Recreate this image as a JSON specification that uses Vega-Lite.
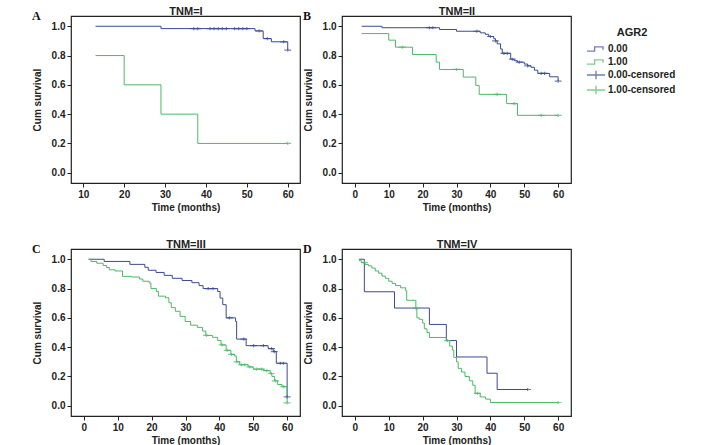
{
  "$schema": "https://vega.github.io/schema/vega-lite/v6.json",
  "background": "white",
  "padding": {"left": 31, "top": 4, "right": 5, "bottom": 0},
  "config": {
    "font": "Liberation Sans",
    "view": {"stroke": "#222222", "strokeWidth": 1.2},
    "axis": {"grid": false, "domain": false, "tickColor": "#222222", "tickSize": 4, "labelFont": "Liberation Sans", "labelFontWeight": "bold", "labelFontSize": 10, "labelColor": "#222222", "titleFont": "Liberation Sans", "titleFontWeight": "bold", "titleFontSize": 10, "titleColor": "#222222", "labelPadding": 2, "labelOverlap": false},
    "axisX": {"titlePadding": 3},
    "axisY": {"titlePadding": 9, "labelOverlap": false},
    "title": {"font": "Liberation Serif", "fontSize": 12, "fontWeight": "bold", "color": "#111111", "anchor": "start", "frame": "bounds", "offset": -18},
    "legend": {"titleFont": "Liberation Sans", "titleFontSize": 11, "titleFontWeight": "bold", "titleColor": "#222222", "titleAnchor": "middle", "titlePadding": 3, "labelFont": "Liberation Sans", "labelFontSize": 10, "labelFontWeight": "bold", "labelColor": "#222222", "labelOffset": 4, "symbolSize": 196, "symbolStrokeWidth": 1.4, "rowPadding": 0, "orient": "right", "padding": 11, "offset": 5}
  },
  "data": {"values": [
    {"p":"A","g":"0.00","t":13,"s":1},{"p":"A","g":"0.00","t":29,"s":0.984},{"p":"A","g":"0.00","t":52,"s":0.968},{"p":"A","g":"0.00","t":54,"s":0.916},{"p":"A","g":"0.00","t":56,"s":0.894},{"p":"A","g":"0.00","t":60,"s":0.837},
    {"p":"A","g":"1.00","t":13,"s":0.8},{"p":"A","g":"1.00","t":20,"s":0.6},{"p":"A","g":"1.00","t":29,"s":0.4},{"p":"A","g":"1.00","t":38,"s":0.2},{"p":"A","g":"1.00","t":60,"s":0.2},
    {"p":"A","g":"0.00-censored","t":37,"s":0.984},{"p":"A","g":"0.00-censored","t":38,"s":0.984},{"p":"A","g":"0.00-censored","t":41,"s":0.984},{"p":"A","g":"0.00-censored","t":42,"s":0.984},{"p":"A","g":"0.00-censored","t":43,"s":0.984},{"p":"A","g":"0.00-censored","t":44,"s":0.984},{"p":"A","g":"0.00-censored","t":45,"s":0.984},{"p":"A","g":"0.00-censored","t":47,"s":0.984},{"p":"A","g":"0.00-censored","t":48,"s":0.984},{"p":"A","g":"0.00-censored","t":49,"s":0.984},{"p":"A","g":"0.00-censored","t":50,"s":0.984},{"p":"A","g":"0.00-censored","t":53,"s":0.968},{"p":"A","g":"0.00-censored","t":55,"s":0.916},{"p":"A","g":"0.00-censored","t":59,"s":0.894},{"p":"A","g":"0.00-censored","t":60,"s":0.837},
    {"p":"A","g":"1.00-censored","t":60,"s":0.2},

    {"p":"B","g":"0.00","t":2,"s":1},{"p":"B","g":"0.00","t":8,"s":0.99},{"p":"B","g":"0.00","t":25,"s":0.978},{"p":"B","g":"0.00","t":30,"s":0.966},{"p":"B","g":"0.00","t":37,"s":0.955},{"p":"B","g":"0.00","t":38.5,"s":0.945},{"p":"B","g":"0.00","t":39.5,"s":0.93},{"p":"B","g":"0.00","t":41,"s":0.915},{"p":"B","g":"0.00","t":41.5,"s":0.9},{"p":"B","g":"0.00","t":42,"s":0.88},{"p":"B","g":"0.00","t":43,"s":0.845},{"p":"B","g":"0.00","t":43.5,"s":0.815},{"p":"B","g":"0.00","t":46,"s":0.775},{"p":"B","g":"0.00","t":47,"s":0.765},{"p":"B","g":"0.00","t":48,"s":0.755},{"p":"B","g":"0.00","t":50,"s":0.742},{"p":"B","g":"0.00","t":51,"s":0.73},{"p":"B","g":"0.00","t":52,"s":0.72},{"p":"B","g":"0.00","t":53,"s":0.7},{"p":"B","g":"0.00","t":54,"s":0.678},{"p":"B","g":"0.00","t":57.5,"s":0.655},{"p":"B","g":"0.00","t":60,"s":0.626},
    {"p":"B","g":"1.00","t":2,"s":0.95},{"p":"B","g":"1.00","t":10,"s":0.905},{"p":"B","g":"1.00","t":12,"s":0.857},{"p":"B","g":"1.00","t":17,"s":0.807},{"p":"B","g":"1.00","t":24,"s":0.755},{"p":"B","g":"1.00","t":25,"s":0.705},{"p":"B","g":"1.00","t":32,"s":0.653},{"p":"B","g":"1.00","t":35.7,"s":0.596},{"p":"B","g":"1.00","t":36.7,"s":0.535},{"p":"B","g":"1.00","t":44.8,"s":0.472},{"p":"B","g":"1.00","t":48,"s":0.392},{"p":"B","g":"1.00","t":60,"s":0.392},
    {"p":"B","g":"0.00-censored","t":22,"s":0.99},{"p":"B","g":"0.00-censored","t":23,"s":0.99},{"p":"B","g":"0.00-censored","t":36,"s":0.966},{"p":"B","g":"0.00-censored","t":40,"s":0.93},{"p":"B","g":"0.00-censored","t":41.5,"s":0.9},{"p":"B","g":"0.00-censored","t":44,"s":0.815},{"p":"B","g":"0.00-censored","t":45,"s":0.815},{"p":"B","g":"0.00-censored","t":46.5,"s":0.775},{"p":"B","g":"0.00-censored","t":48.5,"s":0.755},{"p":"B","g":"0.00-censored","t":51,"s":0.73},{"p":"B","g":"0.00-censored","t":55,"s":0.678},{"p":"B","g":"0.00-censored","t":56,"s":0.678},{"p":"B","g":"0.00-censored","t":60,"s":0.626},
    {"p":"B","g":"1.00-censored","t":14,"s":0.857},{"p":"B","g":"1.00-censored","t":30,"s":0.705},{"p":"B","g":"1.00-censored","t":42,"s":0.535},{"p":"B","g":"1.00-censored","t":47,"s":0.472},{"p":"B","g":"1.00-censored","t":55,"s":0.392},{"p":"B","g":"1.00-censored","t":60,"s":0.392},

    {"p":"C","g":"0.00","t":1.4,"s":1},{"p":"C","g":"0.00","t":6,"s":0.985},{"p":"C","g":"0.00","t":13.6,"s":0.965},{"p":"C","g":"0.00","t":18,"s":0.945},{"p":"C","g":"0.00","t":19,"s":0.925},{"p":"C","g":"0.00","t":21.3,"s":0.91},{"p":"C","g":"0.00","t":23.7,"s":0.89},{"p":"C","g":"0.00","t":26.1,"s":0.87},{"p":"C","g":"0.00","t":29,"s":0.855},{"p":"C","g":"0.00","t":31.9,"s":0.84},{"p":"C","g":"0.00","t":34,"s":0.82},{"p":"C","g":"0.00","t":35.2,"s":0.8},{"p":"C","g":"0.00","t":39.5,"s":0.78},{"p":"C","g":"0.00","t":40.2,"s":0.735},{"p":"C","g":"0.00","t":41,"s":0.69},{"p":"C","g":"0.00","t":42,"s":0.6},{"p":"C","g":"0.00","t":44.8,"s":0.575},{"p":"C","g":"0.00","t":45.1,"s":0.455},{"p":"C","g":"0.00","t":47.9,"s":0.41},{"p":"C","g":"0.00","t":54.4,"s":0.39},{"p":"C","g":"0.00","t":55.9,"s":0.37},{"p":"C","g":"0.00","t":56.8,"s":0.29},{"p":"C","g":"0.00","t":60,"s":0.06},
    {"p":"C","g":"1.00","t":1.4,"s":1},{"p":"C","g":"1.00","t":2.1,"s":0.985},{"p":"C","g":"1.00","t":3.8,"s":0.973},{"p":"C","g":"1.00","t":5.7,"s":0.957},{"p":"C","g":"1.00","t":6.7,"s":0.944},{"p":"C","g":"1.00","t":7.5,"s":0.928},{"p":"C","g":"1.00","t":9.2,"s":0.92},{"p":"C","g":"1.00","t":11.4,"s":0.883},{"p":"C","g":"1.00","t":14,"s":0.879},{"p":"C","g":"1.00","t":16.4,"s":0.865},{"p":"C","g":"1.00","t":17.4,"s":0.85},{"p":"C","g":"1.00","t":19.3,"s":0.838},{"p":"C","g":"1.00","t":19.8,"s":0.8},{"p":"C","g":"1.00","t":21.4,"s":0.78},{"p":"C","g":"1.00","t":22,"s":0.748},{"p":"C","g":"1.00","t":24.1,"s":0.737},{"p":"C","g":"1.00","t":25.1,"s":0.703},{"p":"C","g":"1.00","t":25.8,"s":0.67},{"p":"C","g":"1.00","t":27,"s":0.645},{"p":"C","g":"1.00","t":28.4,"s":0.61},{"p":"C","g":"1.00","t":29.9,"s":0.575},{"p":"C","g":"1.00","t":31.5,"s":0.55},{"p":"C","g":"1.00","t":33.5,"s":0.535},{"p":"C","g":"1.00","t":35,"s":0.51},{"p":"C","g":"1.00","t":36,"s":0.48},{"p":"C","g":"1.00","t":38,"s":0.467},{"p":"C","g":"1.00","t":39.5,"s":0.445},{"p":"C","g":"1.00","t":40.5,"s":0.415},{"p":"C","g":"1.00","t":42,"s":0.378},{"p":"C","g":"1.00","t":43.4,"s":0.35},{"p":"C","g":"1.00","t":44.5,"s":0.34},{"p":"C","g":"1.00","t":45,"s":0.3},{"p":"C","g":"1.00","t":46,"s":0.28},{"p":"C","g":"1.00","t":48.5,"s":0.265},{"p":"C","g":"1.00","t":50,"s":0.25},{"p":"C","g":"1.00","t":53,"s":0.24},{"p":"C","g":"1.00","t":55,"s":0.22},{"p":"C","g":"1.00","t":55.5,"s":0.2},{"p":"C","g":"1.00","t":56.3,"s":0.17},{"p":"C","g":"1.00","t":57.2,"s":0.145},{"p":"C","g":"1.00","t":58.5,"s":0.13},{"p":"C","g":"1.00","t":60,"s":0.02},
    {"p":"C","g":"0.00-censored","t":36.7,"s":0.8},{"p":"C","g":"0.00-censored","t":38.1,"s":0.8},{"p":"C","g":"0.00-censored","t":43,"s":0.6},{"p":"C","g":"0.00-censored","t":47.2,"s":0.455},{"p":"C","g":"0.00-censored","t":50.1,"s":0.41},{"p":"C","g":"0.00-censored","t":53,"s":0.41},{"p":"C","g":"0.00-censored","t":55.4,"s":0.39},{"p":"C","g":"0.00-censored","t":56.2,"s":0.37},{"p":"C","g":"0.00-censored","t":58,"s":0.29},{"p":"C","g":"0.00-censored","t":58.9,"s":0.29},{"p":"C","g":"0.00-censored","t":60,"s":0.06},
    {"p":"C","g":"1.00-censored","t":36.2,"s":0.48},{"p":"C","g":"1.00-censored","t":40.8,"s":0.415},{"p":"C","g":"1.00-censored","t":42.3,"s":0.378},{"p":"C","g":"1.00-censored","t":43.6,"s":0.35},{"p":"C","g":"1.00-censored","t":45.2,"s":0.3},{"p":"C","g":"1.00-censored","t":46.5,"s":0.28},{"p":"C","g":"1.00-censored","t":47.5,"s":0.28},{"p":"C","g":"1.00-censored","t":49,"s":0.265},{"p":"C","g":"1.00-censored","t":51,"s":0.25},{"p":"C","g":"1.00-censored","t":52.5,"s":0.25},{"p":"C","g":"1.00-censored","t":54,"s":0.24},{"p":"C","g":"1.00-censored","t":55.3,"s":0.22},{"p":"C","g":"1.00-censored","t":56.5,"s":0.17},{"p":"C","g":"1.00-censored","t":59,"s":0.13},{"p":"C","g":"1.00-censored","t":60,"s":0.02},

    {"p":"D","g":"0.00","t":1.2,"s":1},{"p":"D","g":"0.00","t":2.8,"s":0.778},{"p":"D","g":"0.00","t":11.7,"s":0.667},{"p":"D","g":"0.00","t":22,"s":0.555},{"p":"D","g":"0.00","t":27,"s":0.445},{"p":"D","g":"0.00","t":30,"s":0.333},{"p":"D","g":"0.00","t":39,"s":0.222},{"p":"D","g":"0.00","t":42,"s":0.111},{"p":"D","g":"0.00","t":51,"s":0.111},
    {"p":"D","g":"1.00","t":1.2,"s":0.99},{"p":"D","g":"1.00","t":2,"s":0.977},{"p":"D","g":"1.00","t":3,"s":0.965},{"p":"D","g":"1.00","t":4,"s":0.955},{"p":"D","g":"1.00","t":5,"s":0.94},{"p":"D","g":"1.00","t":6,"s":0.92},{"p":"D","g":"1.00","t":7,"s":0.905},{"p":"D","g":"1.00","t":8,"s":0.885},{"p":"D","g":"1.00","t":9,"s":0.87},{"p":"D","g":"1.00","t":10,"s":0.85},{"p":"D","g":"1.00","t":11,"s":0.835},{"p":"D","g":"1.00","t":12,"s":0.82},{"p":"D","g":"1.00","t":13.5,"s":0.805},{"p":"D","g":"1.00","t":15,"s":0.785},{"p":"D","g":"1.00","t":15.3,"s":0.72},{"p":"D","g":"1.00","t":18,"s":0.665},{"p":"D","g":"1.00","t":18.3,"s":0.6},{"p":"D","g":"1.00","t":19,"s":0.59},{"p":"D","g":"1.00","t":20,"s":0.565},{"p":"D","g":"1.00","t":20.5,"s":0.525},{"p":"D","g":"1.00","t":21.3,"s":0.5},{"p":"D","g":"1.00","t":22,"s":0.466},{"p":"D","g":"1.00","t":27,"s":0.445},{"p":"D","g":"1.00","t":28,"s":0.407},{"p":"D","g":"1.00","t":28.8,"s":0.38},{"p":"D","g":"1.00","t":29.2,"s":0.33},{"p":"D","g":"1.00","t":30,"s":0.3},{"p":"D","g":"1.00","t":30.5,"s":0.255},{"p":"D","g":"1.00","t":31.5,"s":0.23},{"p":"D","g":"1.00","t":32.5,"s":0.2},{"p":"D","g":"1.00","t":33.8,"s":0.17},{"p":"D","g":"1.00","t":34.8,"s":0.14},{"p":"D","g":"1.00","t":35.5,"s":0.085},{"p":"D","g":"1.00","t":37,"s":0.06},{"p":"D","g":"1.00","t":38.6,"s":0.045},{"p":"D","g":"1.00","t":40,"s":0.022},{"p":"D","g":"1.00","t":60,"s":0.022},
    {"p":"D","g":"0.00-censored","t":51,"s":0.111},
    {"p":"D","g":"1.00-censored","t":2.8,"s":0.977},{"p":"D","g":"1.00-censored","t":18.1,"s":0.665},{"p":"D","g":"1.00-censored","t":27.3,"s":0.445},{"p":"D","g":"1.00-censored","t":36.2,"s":0.085},{"p":"D","g":"1.00-censored","t":60,"s":0.022}
  ]},
  "resolve": {"scale": {"color": "shared", "shape": "shared"}, "legend": {"color": "shared", "shape": "shared"}},
  "columns": 2,
  "bounds": "flush",
  "spacing": {"row": 66, "column": 42},
  "concat": [
    {
      "width": 229, "height": 167,
      "title": {"text": "A"},
      "layer": [
        {"mark": {"type": "line", "interpolate": "step-after", "strokeWidth": 1},
         "transform": [{"filter": "datum.p === 'A' && (datum.g === '0.00' || datum.g === '1.00')"}],
         "encoding": {
           "x": {"field": "t", "type": "quantitative", "scale": {"domain": [7, 63], "nice": false, "zero": false}, "axis": {"values": [10, 20, 30, 40, 50, 60], "title": "Time (months)"}},
           "y": {"field": "s", "type": "quantitative", "scale": {"domain": [-0.07, 1.07], "nice": false}, "axis": {"values": [0, 0.2, 0.4, 0.6, 0.8, 1], "format": ".1f", "title": "Cum survival", "labelOverlap": false}},
           "color": {"field": "g", "type": "nominal", "title": "AGR2", "scale": {"domain": ["0.00", "1.00", "0.00-censored", "1.00-censored"], "range": ["#3b4a94", "#4db86a", "#3b4a94", "#4db86a"]}}}},
        {"mark": {"type": "point", "filled": false, "size": 28, "strokeWidth": 1.2},
         "transform": [{"filter": "datum.p === 'A' && (datum.g === '0.00-censored' || datum.g === '1.00-censored')"}],
         "encoding": {
           "x": {"field": "t", "type": "quantitative", "axis": {"orient": "top", "title": "TNM=I", "labels": false, "ticks": false, "domain": false, "titleFontSize": 11, "titlePadding": 0}},
           "y": {"field": "s", "type": "quantitative", "axis": {"values": [0, 0.2, 0.4, 0.6, 0.8, 1], "format": ".1f", "title": "Cum survival", "labelOverlap": false}},
           "color": {"field": "g", "type": "nominal", "title": "AGR2", "scale": {"domain": ["0.00", "1.00", "0.00-censored", "1.00-censored"], "range": ["#3b4a94", "#4db86a", "#3b4a94", "#4db86a"]}},
           "shape": {"field": "g", "type": "nominal", "title": "AGR2", "scale": {"domain": ["0.00", "1.00", "0.00-censored", "1.00-censored"], "range": ["M-1.3,0.3H-0.2V-0.3H1V0.1", "M-1.3,0.3H-0.2V-0.3H1V0.1", "M-1.3,0H1.3M0,-0.6V0.6", "M-1.3,0H1.3M0,-0.6V0.6"]}}}}
      ],
      "resolve": {"axis": {"x": "independent"}}
    },
    {
      "width": 229, "height": 167,
      "title": {"text": "B"},
      "layer": [
        {"mark": {"type": "line", "interpolate": "step-after", "strokeWidth": 1},
         "transform": [{"filter": "datum.p === 'B' && (datum.g === '0.00' || datum.g === '1.00')"}],
         "encoding": {
           "x": {"field": "t", "type": "quantitative", "scale": {"domain": [-3.8, 63.8], "nice": false, "zero": false}, "axis": {"values": [0, 10, 20, 30, 40, 50, 60], "title": "Time (months)"}},
           "y": {"field": "s", "type": "quantitative", "scale": {"domain": [-0.07, 1.07], "nice": false}, "axis": {"values": [0, 0.2, 0.4, 0.6, 0.8, 1], "format": ".1f", "title": "Cum survival", "labelOverlap": false}},
           "color": {"field": "g", "type": "nominal", "title": "AGR2", "scale": {"domain": ["0.00", "1.00", "0.00-censored", "1.00-censored"], "range": ["#3b4a94", "#4db86a", "#3b4a94", "#4db86a"]}}}},
        {"mark": {"type": "point", "filled": false, "size": 28, "strokeWidth": 1.2},
         "transform": [{"filter": "datum.p === 'B' && (datum.g === '0.00-censored' || datum.g === '1.00-censored')"}],
         "encoding": {
           "x": {"field": "t", "type": "quantitative", "axis": {"orient": "top", "title": "TNM=II", "labels": false, "ticks": false, "domain": false, "titleFontSize": 11, "titlePadding": 0}},
           "y": {"field": "s", "type": "quantitative", "axis": {"values": [0, 0.2, 0.4, 0.6, 0.8, 1], "format": ".1f", "title": "Cum survival", "labelOverlap": false}},
           "color": {"field": "g", "type": "nominal", "title": "AGR2", "scale": {"domain": ["0.00", "1.00", "0.00-censored", "1.00-censored"], "range": ["#3b4a94", "#4db86a", "#3b4a94", "#4db86a"]}},
           "shape": {"field": "g", "type": "nominal", "title": "AGR2", "scale": {"domain": ["0.00", "1.00", "0.00-censored", "1.00-censored"], "range": ["M-1.3,0.3H-0.2V-0.3H1V0.1", "M-1.3,0.3H-0.2V-0.3H1V0.1", "M-1.3,0H1.3M0,-0.6V0.6", "M-1.3,0H1.3M0,-0.6V0.6"]}}}}
      ],
      "resolve": {"axis": {"x": "independent"}}
    },
    {
      "width": 229, "height": 167,
      "title": {"text": "C"},
      "layer": [
        {"mark": {"type": "line", "interpolate": "step-after", "strokeWidth": 1},
         "transform": [{"filter": "datum.p === 'C' && (datum.g === '0.00' || datum.g === '1.00')"}],
         "encoding": {
           "x": {"field": "t", "type": "quantitative", "scale": {"domain": [-3.8, 63.8], "nice": false, "zero": false}, "axis": {"values": [0, 10, 20, 30, 40, 50, 60], "title": "Time (months)"}},
           "y": {"field": "s", "type": "quantitative", "scale": {"domain": [-0.07, 1.07], "nice": false}, "axis": {"values": [0, 0.2, 0.4, 0.6, 0.8, 1], "format": ".1f", "title": "Cum survival", "labelOverlap": false}},
           "color": {"field": "g", "type": "nominal", "title": "AGR2", "scale": {"domain": ["0.00", "1.00", "0.00-censored", "1.00-censored"], "range": ["#3b4a94", "#4db86a", "#3b4a94", "#4db86a"]}}}},
        {"mark": {"type": "point", "filled": false, "size": 28, "strokeWidth": 1.2},
         "transform": [{"filter": "datum.p === 'C' && (datum.g === '0.00-censored' || datum.g === '1.00-censored')"}],
         "encoding": {
           "x": {"field": "t", "type": "quantitative", "axis": {"orient": "top", "title": "TNM=III", "labels": false, "ticks": false, "domain": false, "titleFontSize": 11, "titlePadding": 0}},
           "y": {"field": "s", "type": "quantitative", "axis": {"values": [0, 0.2, 0.4, 0.6, 0.8, 1], "format": ".1f", "title": "Cum survival", "labelOverlap": false}},
           "color": {"field": "g", "type": "nominal", "title": "AGR2", "scale": {"domain": ["0.00", "1.00", "0.00-censored", "1.00-censored"], "range": ["#3b4a94", "#4db86a", "#3b4a94", "#4db86a"]}},
           "shape": {"field": "g", "type": "nominal", "title": "AGR2", "scale": {"domain": ["0.00", "1.00", "0.00-censored", "1.00-censored"], "range": ["M-1.3,0.3H-0.2V-0.3H1V0.1", "M-1.3,0.3H-0.2V-0.3H1V0.1", "M-1.3,0H1.3M0,-0.6V0.6", "M-1.3,0H1.3M0,-0.6V0.6"]}}}}
      ],
      "resolve": {"axis": {"x": "independent"}}
    },
    {
      "width": 229, "height": 167,
      "title": {"text": "D"},
      "layer": [
        {"mark": {"type": "line", "interpolate": "step-after", "strokeWidth": 1},
         "transform": [{"filter": "datum.p === 'D' && (datum.g === '0.00' || datum.g === '1.00')"}],
         "encoding": {
           "x": {"field": "t", "type": "quantitative", "scale": {"domain": [-3.8, 63.8], "nice": false, "zero": false}, "axis": {"values": [0, 10, 20, 30, 40, 50, 60], "title": "Time (months)"}},
           "y": {"field": "s", "type": "quantitative", "scale": {"domain": [-0.07, 1.07], "nice": false}, "axis": {"values": [0, 0.2, 0.4, 0.6, 0.8, 1], "format": ".1f", "title": "Cum survival", "labelOverlap": false}},
           "color": {"field": "g", "type": "nominal", "title": "AGR2", "scale": {"domain": ["0.00", "1.00", "0.00-censored", "1.00-censored"], "range": ["#3b4a94", "#4db86a", "#3b4a94", "#4db86a"]}}}},
        {"mark": {"type": "point", "filled": false, "size": 28, "strokeWidth": 1.2},
         "transform": [{"filter": "datum.p === 'D' && (datum.g === '0.00-censored' || datum.g === '1.00-censored')"}],
         "encoding": {
           "x": {"field": "t", "type": "quantitative", "axis": {"orient": "top", "title": "TNM=IV", "labels": false, "ticks": false, "domain": false, "titleFontSize": 11, "titlePadding": 0}},
           "y": {"field": "s", "type": "quantitative", "axis": {"values": [0, 0.2, 0.4, 0.6, 0.8, 1], "format": ".1f", "title": "Cum survival", "labelOverlap": false}},
           "color": {"field": "g", "type": "nominal", "title": "AGR2", "scale": {"domain": ["0.00", "1.00", "0.00-censored", "1.00-censored"], "range": ["#3b4a94", "#4db86a", "#3b4a94", "#4db86a"]}},
           "shape": {"field": "g", "type": "nominal", "title": "AGR2", "scale": {"domain": ["0.00", "1.00", "0.00-censored", "1.00-censored"], "range": ["M-1.3,0.3H-0.2V-0.3H1V0.1", "M-1.3,0.3H-0.2V-0.3H1V0.1", "M-1.3,0H1.3M0,-0.6V0.6", "M-1.3,0H1.3M0,-0.6V0.6"]}}}}
      ],
      "resolve": {"axis": {"x": "independent"}}
    }
  ]
}
